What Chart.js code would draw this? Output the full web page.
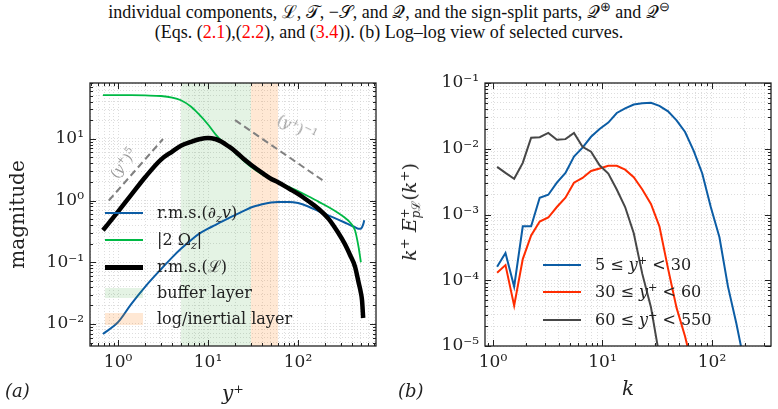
<!DOCTYPE html>
<html>
<head>
<meta charset="utf-8">
<script src="https://cdn.jsdelivr.net/npm/chart.js@4.4.0/dist/chart.umd.min.js"></script>
<style>
  body { margin: 0; width: 778px; height: 409px; background: #fff; position: relative; overflow: hidden; font-family: "DejaVu Serif", "Liberation Serif", serif; color: #222; }
  canvas { position: absolute; }
  #chartA { left: 0; top: 60px; }
  #chartB { left: 390px; top: 60px; }
  .cap { position: absolute; left: 0; width: 778px; text-align: center; font-family: "Liberation Serif", "Times New Roman", serif; font-size: 18px; color: #111; white-space: nowrap; line-height: 20px; }
  .cap .r { color: #f00; }
  .row { position: absolute; height: 20px; line-height: 20px; white-space: nowrap; font-size: 16px; }
  .row .s { position: absolute; left: 0; width: 38px; }
  .row .t { position: absolute; left: 52px; top: 0; }
  .note { position: absolute; transform-origin: center; color: #9a9a9a; font-size: 14px; white-space: nowrap; }
  .panel { position: absolute; font-style: italic; font-size: 18px; }
  sup, sub { font-size: 70%; line-height: 0; }
</style>
</head>
<body>
<div class="cap" style="top:2px">individual components, ℒ, 𝒯, −𝒮, and 𝒬, and the sign-split parts, 𝒬<sup>⊕</sup> and 𝒬<sup>⊖</sup></div>
<div class="cap" style="top:22px">(Eqs. (<span class="r">2.1</span>),(<span class="r">2.2</span>), and (<span class="r">3.4</span>)). (b) Log–log view of selected curves.</div>

<canvas id="chartA" width="390" height="349"></canvas>
<canvas id="chartB" width="388" height="349"></canvas>

<div class="note" style="left:123px;top:163px;transform:translate(-50%,-50%) rotate(-52deg)">(<i>y</i><sup>+</sup>)<sup>5</sup></div>
<div class="note" style="left:297px;top:128px;transform:translate(-50%,-50%) rotate(26deg)">(<i>y</i><sup>+</sup>)<sup>−1</sup></div>

<div class="row" style="left:105px;top:203px"><div class="s" style="top:9px;border-top:2px solid #0C5DA5"></div><div class="t">r.m.s.(∂<sub><i>z</i></sub><i>v</i>)</div></div>
<div class="row" style="left:105px;top:230px"><div class="s" style="top:9px;border-top:2px solid #00B945"></div><div class="t">|2 Ω<sub><i>z</i></sub>|</div></div>
<div class="row" style="left:105px;top:257px"><div class="s" style="top:8px;border-top:5px solid #000"></div><div class="t">r.m.s.(ℒ)</div></div>
<div class="row" style="left:105px;top:283px"><div class="s" style="top:5px;height:10px;background:rgba(44,160,44,0.13)"></div><div class="t">buffer layer</div></div>
<div class="row" style="left:105px;top:309px"><div class="s" style="top:4px;height:12px;background:rgba(255,127,14,0.18)"></div><div class="t">log/inertial layer</div></div>

<div class="row" style="left:543px;top:255px"><div class="s" style="top:9px;border-top:2px solid #0C5DA5"></div><div class="t">5 ≤ <i>y</i><sup>+</sup> &lt; 30</div></div>
<div class="row" style="left:543px;top:282px"><div class="s" style="top:9px;border-top:2px solid #FF2C00"></div><div class="t">30 ≤ <i>y</i><sup>+</sup> &lt; 60</div></div>
<div class="row" style="left:543px;top:310px"><div class="s" style="top:9px;border-top:2px solid #474747"></div><div class="t">60 ≤ <i>y</i><sup>+</sup> &lt; 550</div></div>

<div class="note" style="left:410px;top:212px;transform:translate(-50%,-50%) rotate(-90deg);color:#222;font-size:19px"><i>k</i><sup>+</sup> <i>E</i><span style="display:inline-block;vertical-align:middle;font-size:12px;line-height:11px;text-align:left"><span style="display:block">+</span><span style="display:block"><i>p</i>ℒ</span></span>(<i>k</i><sup>+</sup>)</div>

<div class="panel" style="left:5px;top:380px">(a)</div>
<div class="panel" style="left:398px;top:380px">(b)</div>

<script>
// (a) profiles against y+
const yPlus = [0.68, 1, 1.4, 2, 3, 4, 5, 6.5, 8, 10, 12, 14, 17, 20, 25, 30, 40, 50, 60, 80, 100, 130, 170, 220, 280, 330, 380, 430, 470, 500, 515, 530, 545];
const rmsDzV = [0.0069, 0.0107, 0.021, 0.04, 0.077, 0.12, 0.165, 0.23, 0.29, 0.35, 0.4, 0.45, 0.52, 0.58, 0.68, 0.77, 0.87, 0.93, 0.95, 0.95, 0.91, 0.8, 0.67, 0.57, 0.49, 0.44, 0.4, 0.37, 0.35, 0.35, 0.37, 0.41, 0.48];
const twoOmegaZ = [51, 51, 50.8, 50.3, 49.3, 46.5, 42, 33, 24.5, 17, 12, 9.4, 7.4, 5.9, 4.4, 3.5, 2.65, 2.25, 2.0, 1.65, 1.42, 1.17, 0.95, 0.78, 0.63, 0.53, 0.44, 0.33, 0.18, 0.1, null, null, null];
const rmsL = [0.33, 0.66, 1.23, 2.38, 4.6, 6.2, 7.7, 8.9, 9.8, 10.3, 9.9, 9.0, 7.5, 6.3, 4.7, 3.8, 2.8, 2.25, 1.98, 1.55, 1.28, 0.98, 0.73, 0.5, 0.3, 0.2, 0.13, 0.085, 0.048, 0.032, 0.024, 0.0125, null];
const bufferLayer = [5, 30];
const logLayer = [30, 60];
const slope5X = [0.79, 3.16];
const slope5Y = [1.0, 9.9];
const slopeM1X = [20, 190];
const slopeM1Y = [20, 2.1];

// (b) spectra against k
const kPlus = [1.09, 1.3, 1.56, 1.87, 2.23, 2.67, 3.2, 3.83, 4.59, 5.49, 6.57, 7.86, 9.41, 11.3, 13.5, 16.1, 19.3, 23.1, 27.7, 33.1, 39.7, 47.5, 56.8, 68.1, 81.5, 97.5, 117, 140, 167, 200];
const specBuffer = [1.6e-4, 2.6e-4, 8e-5, 6.6e-4, 6.6e-4, 1.8e-3, 2.0e-3, 3.05e-3, 4.3e-3, 7.6e-3, 0.0104, 0.0152, 0.020, 0.025, 0.035, 0.041, 0.047, 0.049, 0.050, 0.045, 0.037, 0.027, 0.018, 0.0093, 0.0042, 0.0013, 4.5e-4, 8e-5, 2.2e-5, 5e-6];
const specLog = [1.3e-4, 1.7e-4, 4.1e-5, 2.1e-4, 4.8e-4, 7.8e-4, 9e-4, 1.3e-3, 1.8e-3, 3.05e-3, 3.6e-3, 4.6e-3, 5e-3, 5.5e-3, 5.5e-3, 4.8e-3, 3.7e-3, 2.4e-3, 1.45e-3, 6.6e-4, 1.5e-4, 3.8e-5, 1.4e-5, 4e-6, null, null, null, null, null, null];
const specOuter = [5.3e-3, 4.3e-3, 3.5e-3, 6.1e-3, 0.0147, 0.015, 0.0174, 0.0137, 0.014, 0.0174, 0.0107, 9e-3, 5.6e-3, 4.2e-3, 2.4e-3, 1.3e-3, 5.2e-4, 1.25e-4, 3.9e-5, 7e-6, null, null, null, null, null, null, null, null, null, null];

// tick labels, one per decade starting at the given exponent
const xTicksA = ['10⁰', '10¹', '10²'], xExpA = 0;
const yTicksA = ['10⁻²', '10⁻¹', '10⁰', '10¹'], yExpA = -2;
const xTicksB = ['10⁰', '10¹', '10²'], xExpB = 0;
const yTicksB = ['10⁻⁵', '10⁻⁴', '10⁻³', '10⁻²', '10⁻¹'], yExpB = -5;

const pts = (xs, ys) => xs.map((x, i) => ({x: x, y: ys[i]})).filter(p => p.y != null);

function logTicks(scale) {
  const lo = Math.floor(Math.log10(scale.min)), hi = Math.ceil(Math.log10(scale.max));
  const t = [];
  for (let e = lo; e <= hi; e++) {
    for (let m = 1; m <= 9; m++) {
      const v = m * Math.pow(10, e);
      if (v >= scale.min * 0.999 && v <= scale.max * 1.001) t.push({value: v, major: m === 1});
    }
  }
  scale.ticks = t;
}

const serif = 'DejaVu Serif, Liberation Serif, serif';
const tickFont = {family: serif, size: 17};
function axis(min, max, labels, e0, extra) {
  return Object.assign({
    type: 'logarithmic', min: min, max: max,
    afterBuildTicks: logTicks,
    grid: {color: '#d4d4d4', lineWidth: 0.8, drawTicks: false},
    border: {display: false, dash: [1, 2]},
    ticks: {
      autoSkip: false, maxRotation: 0, padding: 6, color: '#222', font: tickFont,
      callback: (v, i, ticks) => ticks[i].major ? (labels[Math.round(Math.log10(v)) - e0] || '') : ''
    }
  }, extra);
}

// inward ticks on all four sides plus the box
const frame = {
  id: 'frame',
  afterDatasetsDraw(chart) {
    const {ctx, chartArea: a, scales} = chart;
    ctx.save();
    ctx.strokeStyle = '#222';
    ctx.lineWidth = 1;
    ctx.beginPath();
    scales.x.ticks.forEach(t => {
      const p = Math.round(scales.x.getPixelForValue(t.value)) + 0.5, len = t.major ? 6 : 3;
      ctx.moveTo(p, a.bottom); ctx.lineTo(p, a.bottom - len);
      ctx.moveTo(p, a.top); ctx.lineTo(p, a.top + len);
    });
    scales.y.ticks.forEach(t => {
      const p = Math.round(scales.y.getPixelForValue(t.value)) + 0.5, len = t.major ? 6 : 3;
      ctx.moveTo(a.left, p); ctx.lineTo(a.left + len, p);
      ctx.moveTo(a.right, p); ctx.lineTo(a.right - len, p);
    });
    ctx.stroke();
    ctx.lineWidth = 1.3;
    ctx.strokeRect(a.left, a.top, a.right - a.left, a.bottom - a.top);
    ctx.restore();
  }
};

// shaded y+ ranges
const bands = {
  id: 'bands',
  beforeDatasetsDraw(chart) {
    const {ctx, chartArea: a, scales} = chart;
    ctx.save();
    [[bufferLayer, 'rgba(44,160,44,0.13)'], [logLayer, 'rgba(255,127,14,0.18)']].forEach(([r, c]) => {
      const x0 = scales.x.getPixelForValue(r[0]), x1 = scales.x.getPixelForValue(r[1]);
      ctx.fillStyle = c;
      ctx.fillRect(x0, a.top, x1 - x0, a.bottom - a.top);
    });
    ctx.restore();
  }
};

const common = {
  responsive: false, animation: false, devicePixelRatio: 1,
  plugins: {legend: {display: false}, tooltip: {enabled: false}},
  elements: {point: {radius: 0}}
};

new Chart(document.getElementById('chartA'), {
  type: 'scatter',
  data: {
    datasets: [
      {data: pts(yPlus, rmsL), showLine: true, borderColor: '#000', borderWidth: 4.5, cubicInterpolationMode: 'monotone'},
      {data: pts(yPlus, twoOmegaZ), showLine: true, borderColor: '#00B945', borderWidth: 1.8, cubicInterpolationMode: 'monotone'},
      {data: pts(yPlus, rmsDzV), showLine: true, borderColor: '#0C5DA5', borderWidth: 2, cubicInterpolationMode: 'monotone'},
      {data: pts(slope5X, slope5Y), showLine: true, borderColor: '#808080', borderWidth: 2, borderDash: [7, 4]},
      {data: pts(slopeM1X, slopeM1Y), showLine: true, borderColor: '#808080', borderWidth: 2, borderDash: [7, 4]}
    ]
  },
  options: Object.assign({}, common, {
    layout: {padding: {top: 23, right: 14, bottom: 0, left: 0}},
    scales: {
      x: axis(0.488, 736, xTicksA, xExpA, {
        afterFit: s => { s.height = 63; },
        title: {display: true, text: 'y⁺', font: {family: serif, size: 20, style: 'italic'}, color: '#222', padding: {bottom: 2}}
      }),
      y: axis(0.0044, 80, yTicksA, yExpA, {
        afterFit: s => { s.width = 90; },
        title: {display: true, text: 'magnitude', font: {family: serif, size: 20}, color: '#222', padding: {top: 7}}
      })
    }
  }),
  plugins: [bands, frame]
});

new Chart(document.getElementById('chartB'), {
  type: 'scatter',
  data: {
    datasets: [
      {data: pts(kPlus, specOuter), showLine: true, borderColor: '#474747', borderWidth: 2},
      {data: pts(kPlus, specLog), showLine: true, borderColor: '#FF2C00', borderWidth: 2},
      {data: pts(kPlus, specBuffer), showLine: true, borderColor: '#0C5DA5', borderWidth: 2}
    ]
  },
  options: Object.assign({}, common, {
    layout: {padding: {top: 23, right: 7, bottom: 0, left: 0}},
    scales: {
      x: axis(0.845, 346, xTicksB, xExpB, {
        afterFit: s => { s.height = 63; },
        title: {display: true, text: 'k', font: {family: serif, size: 20, style: 'italic'}, color: '#222', padding: {bottom: 7}}
      }),
      y: axis(1e-5, 0.1, yTicksB, yExpB, {
        afterFit: s => { s.width = 95; }
      })
    }
  }),
  plugins: [frame]
});
</script>
</body>
</html>
